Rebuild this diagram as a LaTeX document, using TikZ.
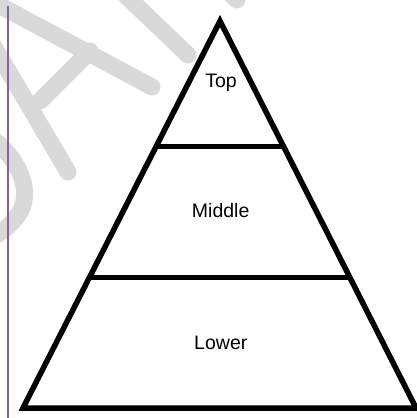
\documentclass[tikz,border=0pt]{standalone}
\usepackage{fontspec}
\setmainfont{Liberation Sans}
\definecolor{wmgray}{RGB}{217,217,217}
\definecolor{rulepurple}{RGB}{128,100,162}
\tikzset{
  wmark/.style={draw=wmgray, line width=17pt, line cap=round, line join=round},
  pyr/.style={draw=black, line width=5.5pt, line join=miter},
  tier/.style={draw=black, line width=5pt},
  lbl/.style={font=\fontsize{19.5}{22}\selectfont, anchor=base, inner sep=0pt}
}
\begin{document}
\begin{tikzpicture}[x=1pt,y=-1pt]
\useasboundingbox (0,0) rectangle (417,418);
\begin{scope}
\clip (0,0) rectangle (417,418);
% watermark strokes
\draw[wmark] (-20,-5) -- (152,87);
\draw[wmark] (118,-12) -- (188,55);
\draw[wmark] (212,-25) -- (237,0);
\draw[wmark] (-10,40) -- (68,172);
\draw[wmark] (90,51) -- (40,101);
\draw[wmark] (-8,138) .. controls (25,165) and (30,195) .. (20,212) .. controls (14,222) and (5,230) .. (-8,238);
% purple rule
\draw[rulepurple, line width=1.3pt] (8,6) -- (8,420);
% pyramid
\coordinate (apex) at (220,21);
\coordinate (bl) at (23,408);
\coordinate (br) at (416,408);
\coordinate (t1l) at (157,146);
\coordinate (t1r) at (283.5,146);
\coordinate (t2l) at (90.5,277.5);
\coordinate (t2r) at (349.5,277.5);
\draw[pyr] (apex) -- (br) -- (bl) -- cycle;
\draw[tier] (t1l) -- (t1r);
\draw[tier] (t2l) -- (t2r);
\node[lbl] (top) at (221,87.3) {Top};
\node[lbl] (middle) at (220.7,217.8) {Middle};
\node[lbl] (lower) at (220.8,349) {Lower};
\end{scope}
\end{tikzpicture}
\end{document}
